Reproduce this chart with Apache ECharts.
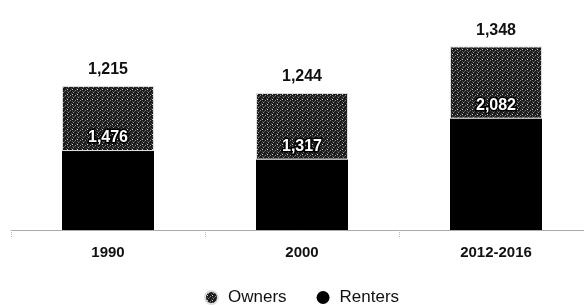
<!DOCTYPE html>
<html>
<head>
<meta charset="utf-8">
<script src="https://cdn.jsdelivr.net/npm/echarts@6/dist/echarts.min.js"></script>
<style>
  html, body { margin: 0; padding: 0; background: #fff; }
  #chart { width: 584px; height: 305px; }
</style>
</head>
<body>
<div id="chart"></div>
<script>
const categories = ["1990", "2000", "2012-2016"];
const renters = [1476, 1317, 2082];
const owners = [1215, 1244, 1348];

// speckled dark fill for owners, like the scanned dither
function speckle() {
  const c = document.createElement("canvas");
  c.width = 5;
  c.height = 5;
  const ctx = c.getContext("2d");
  ctx.fillStyle = "#1c1c1c";
  ctx.fillRect(0, 0, 5, 5);
  ctx.fillStyle = "#8c8c8c";
  ctx.fillRect(0, 0, 1, 1);
  ctx.fillRect(3, 2, 1, 1);
  ctx.fillStyle = "#d0d0d0";
  ctx.fillRect(2, 4, 1, 1);
  ctx.fillStyle = "#505050";
  ctx.fillRect(1, 3, 1, 1);
  ctx.fillRect(4, 1, 1, 1);
  ctx.fillRect(2, 1, 1, 1);
  return c;
}

const fmt = v => v.toLocaleString("en-US");
const font = "Liberation Sans, Arial, sans-serif";

const chart = echarts.init(document.getElementById("chart"));
chart.setOption({
  animation: false,
  grid: { left: 11, width: 582, top: 16, bottom: 75, outerBoundsMode: "none", containLabel: false },
  legend: {
    data: ["Owners", "Renters"],
    top: 284,
    left: 199,
    icon: "circle",
    itemWidth: 13,
    itemHeight: 13,
    itemGap: 30,
    textStyle: { fontFamily: font, fontSize: 17, color: "#111", padding: [0, 0, 0, 5] }
  },
  xAxis: {
    type: "category",
    data: categories,
    axisLine: { lineStyle: { color: "#aaa", width: 1 } },
    axisTick: { show: true, length: 7, lineStyle: { color: "#bbb", type: "dotted" } },
    axisLabel: { margin: 15, fontFamily: font, fontSize: 15, fontWeight: "bold", color: "#111" }
  },
  yAxis: {
    type: "value",
    min: 0,
    max: 4000,
    show: false,
    splitLine: { show: false }
  },
  series: [
    {
      name: "Renters",
      type: "bar",
      stack: "units",
      barWidth: 92,
      data: renters,
      itemStyle: { color: "#000" },
      label: {
        show: true,
        position: "top",
        distance: 5,
        formatter: p => fmt(p.value),
        fontFamily: font,
        fontSize: 16,
        fontWeight: "bold",
        color: "#fff",
        textBorderColor: "#000",
        textBorderWidth: 3
      }
    },
    {
      name: "Owners",
      type: "bar",
      stack: "units",
      barWidth: 92,
      data: owners,
      itemStyle: {
        color: { image: speckle(), repeat: "repeat" },
        borderColor: "#ddd",
        borderWidth: 1
      },
      label: {
        show: true,
        position: "top",
        distance: 8,
        formatter: p => fmt(p.value),
        fontFamily: font,
        fontSize: 16,
        fontWeight: "bold",
        color: "#111"
      }
    }
  ]
});
</script>
</body>
</html>
